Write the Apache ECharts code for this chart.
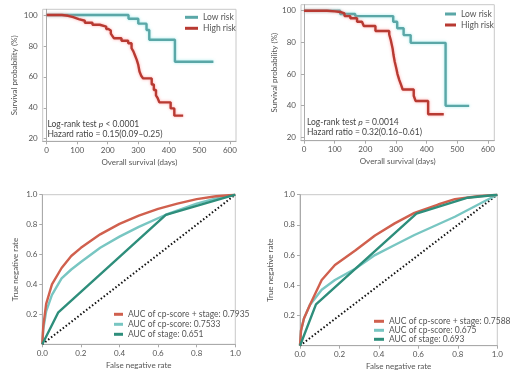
<!DOCTYPE html>
<html><head><meta charset="utf-8">
<script src="https://cdn.jsdelivr.net/npm/echarts@6/dist/echarts.min.js"></script>
<style>html,body{margin:0;padding:0;background:#fff}#c{width:510px;height:388px}</style>
</head><body><div id="c"></div>
<script>
// ---- data ----
const kmXTicks = [0, 100, 200, 300, 400, 500, 600];
const kmYTicks = [20, 40, 60, 80, 100];
const rocXTicks = [0, 0.2, 0.4, 0.6, 0.8, 1.0];
const rocYTicks = [0.2, 0.4, 0.6, 0.8, 1.0];

// Panel A: [day, survival %]
const aLowRisk = [[0,100],[268,97.6],[300,94.4],[327,90.3],[336,84],[420,69.8],[546,69.8]];
const aHighRisk = [[0,100],[50,99.5],[70,98.6],[87,97.4],[105,96.3],[125,95],[150,93.7],[174,92.5],[195,91],[202,90],[210,88],[215,86.5],[220,85],[245,83.4],[267,81.7],[278,78.5],[284,76.5],[289,74],[295,71],[300,67.7],[304,63.5],[310,60.5],[316,59],[344,55],[351,51.5],[358,48],[364,46],[369,43.5],[406,39.6],[418,34.9],[447,34.9]];
// Panel B
const bLowRisk = [[0,100],[118,97.9],[167,96.6],[291,93],[304,88.9],[325,84.6],[348,79.7],[462,39.9],[539,39.9]];
const bHighRisk = [[0,100],[75,99.6],[101,99.2],[118,98.3],[132,96.6],[151,95.2],[173,93],[189,92],[195,90.3],[233,87.2],[278,85],[283,81.5],[289,76.2],[292,72],[296,67.8],[301,63.6],[305,60],[311,56.2],[317,53],[322,50.2],[358,46.3],[364,43],[405,34.6],[456,34.6]];

// Panel C: ROC [FPR, TPR]
const cCombined = [[0,0],[0.005,0.12],[0.02,0.27],[0.05,0.4],[0.1,0.51],[0.15,0.59],[0.2,0.645],[0.3,0.735],[0.4,0.805],[0.5,0.86],[0.6,0.905],[0.7,0.94],[0.8,0.97],[0.9,0.99],[1,1]];
const cScore = [[0,0],[0.005,0.1],[0.02,0.22],[0.05,0.33],[0.1,0.44],[0.15,0.5],[0.2,0.55],[0.3,0.645],[0.4,0.72],[0.5,0.785],[0.64,0.866],[0.8,0.94],[0.9,0.975],[1,1]];
const cStage = [[0,0],[0.083,0.214],[0.64,0.865],[1,1]];
// Panel D
const dCombined = [[0,0],[0.005,0.1],[0.02,0.18],[0.05,0.27],[0.11,0.435],[0.177,0.534],[0.28,0.63],[0.38,0.73],[0.48,0.81],[0.58,0.88],[0.7,0.935],[0.785,0.97],[0.9,0.99],[1,1]];
const dScore = [[0,0],[0.005,0.1],[0.02,0.18],[0.05,0.27],[0.11,0.37],[0.177,0.435],[0.28,0.51],[0.38,0.6],[0.48,0.667],[0.58,0.733],[0.785,0.854],[0.94,0.96],[1,1]];
const dStage = [[0,0],[0.081,0.274],[0.59,0.875],[0.85,0.98],[1,1]];
const diagonal = [[0,0],[1,1]];

const cNames = ['AUC of cp-score + stage: 0.7935','AUC of cp-score: 0.7533','AUC of stage: 0.651'];
const dNames = ['AUC of cp-score + stage: 0.7588','AUC of cp-score: 0.675','AUC of stage: 0.693'];

// ---- styles ----
const FONT = 'Lato';
const TXT = '#555';
const LOW = '#5aa7a7', HIGH = '#b83a32';
const RED = '#d0604e', LTEAL = '#78c6c2', DGREEN = '#2e8e7b';

function grid(l,t,r,b){return {left:l,top:t,width:r-l,height:b-t,show:true,borderColor:'#c8c8c8',borderWidth:1,backgroundColor:'transparent',containLabel:false};}
function axis(type, gi, min, max, ticks, name, gap, fmt){
  const o = {type:'value', gridIndex:gi, min:min, max:max, name:name, nameLocation:'middle', nameGap:gap,
    nameTextStyle:{color:TXT,fontFamily:FONT,fontSize:8},
    axisLine:{show:true,lineStyle:{color:'#aaa',width:1}},
    axisTick:{show:true,length:3,lineStyle:{color:'#aaa'},customValues:ticks},
    axisLabel:{color:TXT,fontFamily:FONT,fontSize:8,margin:5,customValues:ticks,formatter:fmt||null},
    splitLine:{show:false}};
  return o;
}
function km(name, data, gi, color, halo){
  return {type:'line',name:name,xAxisIndex:gi,yAxisIndex:gi,data:data,step:'end',showSymbol:false,symbol:'none',
    lineStyle:{color:color,width:2.4,shadowColor:halo,shadowBlur:3},itemStyle:{color:color},z:3};
}
function roc(name, data, gi, color, z){
  return {type:'line',name:name,xAxisIndex:gi,yAxisIndex:gi,data:data,showSymbol:false,symbol:'none',
    lineStyle:{color:color,width:2.4},itemStyle:{color:color},z:z};
}
const f1 = v => v.toFixed(1);

const option = {
  animation:false,
  grid:[grid(42.7,9.3,236,141.3), grid(301,4.7,494.3,140.7), grid(42.3,194.7,235.3,344.3), grid(300,194.7,497.3,345.7)],
  xAxis:[
    axis('x',0,-13,620,kmXTicks,'Overall survival (days)',17),
    axis('x',1,-10,621,kmXTicks,'Overall survival (days)',17),
    axis('x',2,0,1,rocXTicks,'False negative rate',17,f1),
    axis('x',3,0,1,rocXTicks,'False negative rate',17,f1)
  ],
  yAxis:[
    axis('y',0,18.3,103.7,kmYTicks,'Survival probability (%)',24),
    axis('y',1,17.9,103.8,kmYTicks,'Survival probability (%)',21),
    axis('y',2,0,1,rocYTicks,'True negative rate',23,f1),
    axis('y',3,0,1,rocYTicks,'True negative rate',26,f1)
  ],
  legend:[
    {data:['Low risk','High risk'],orient:'vertical',left:185,top:11.8,padding:0,itemGap:0,itemWidth:13,itemHeight:3,icon:'rect',
      textStyle:{color:TXT,fontFamily:FONT,fontSize:8.5,lineHeight:11}},
    {data:['Low risk','High risk'],orient:'vertical',left:445,top:8.5,padding:0,itemGap:0,itemWidth:11,itemHeight:3,icon:'rect',
      textStyle:{color:TXT,fontFamily:FONT,fontSize:8.5,lineHeight:11}},
    {data:cNames,orient:'vertical',left:114,top:309.3,padding:0,itemGap:0,itemWidth:9,itemHeight:3,icon:'rect',
      textStyle:{color:TXT,fontFamily:FONT,fontSize:8.5,lineHeight:10}},
    {data:dNames,orient:'vertical',left:374,top:316.8,padding:0,itemGap:0,itemWidth:10,itemHeight:3,icon:'rect',
      textStyle:{color:TXT,fontFamily:FONT,fontSize:8.5,lineHeight:9}}
  ],
  graphic:[
    {type:'text',left:47.5,top:120,style:{text:'{a|Log-rank test }{i|p}{a| < 0.0001}\n{a|Hazard ratio = 0.15(0.09–0.25)}',
      rich:{a:{fontFamily:FONT,fontSize:8.5,fill:'#444',lineHeight:9.5},i:{fontFamily:FONT,fontSize:8.5,fontStyle:'italic',fill:'#444',lineHeight:9.5}}}},
    {type:'text',left:307,top:117.5,style:{text:'{a|Log-rank test }{i|p}{a| = 0.0014}\n{a|Hazard ratio = 0.32(0.16–0.61)}',
      rich:{a:{fontFamily:FONT,fontSize:8.5,fill:'#444',lineHeight:10},i:{fontFamily:FONT,fontSize:8.5,fontStyle:'italic',fill:'#444',lineHeight:10}}}}
  ],
  series:[
    km('Low risk',aLowRisk,0,LOW,'rgba(120,225,225,0.7)'),
    km('High risk',aHighRisk,0,HIGH,'rgba(255,130,130,0.7)'),
    km('Low risk',bLowRisk,1,LOW,'rgba(120,225,225,0.7)'),
    km('High risk',bHighRisk,1,HIGH,'rgba(255,130,130,0.7)'),
    {type:'line',xAxisIndex:2,yAxisIndex:2,data:diagonal,showSymbol:false,symbol:'none',lineStyle:{color:'#111',width:2,type:[1.5,2.2]},z:1,silent:true},
    roc(cNames[1],cScore,2,LTEAL,2),
    roc(cNames[0],cCombined,2,RED,3),
    roc(cNames[2],cStage,2,DGREEN,4),
    {type:'line',xAxisIndex:3,yAxisIndex:3,data:diagonal,showSymbol:false,symbol:'none',lineStyle:{color:'#111',width:2,type:[1.5,2.2]},z:1,silent:true},
    roc(dNames[1],dScore,3,LTEAL,2),
    roc(dNames[0],dCombined,3,RED,3),
    roc(dNames[2],dStage,3,DGREEN,4)
  ]
};
const chart = echarts.init(document.getElementById('c'), null, {renderer:'canvas'});
chart.setOption(option);
</script></body></html>
